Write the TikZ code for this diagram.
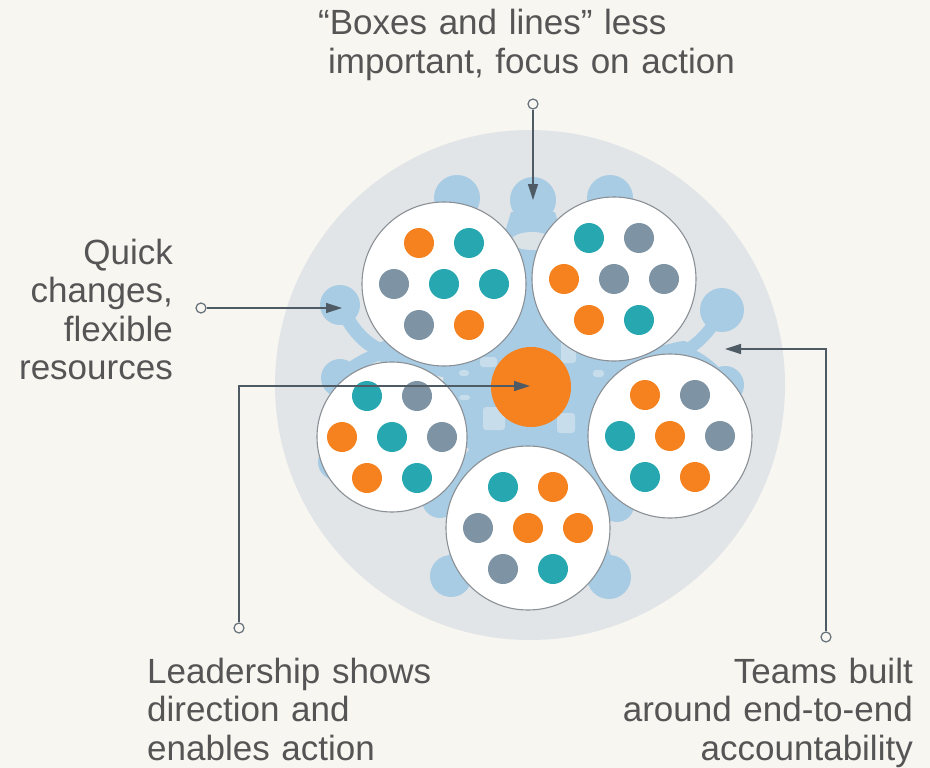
\documentclass[tikz,border=0pt]{standalone}
\usepackage{fontspec}
\setmainfont{Liberation Sans}
\usetikzlibrary{arrows.meta}

\definecolor{bgcream}{HTML}{F7F6F1}
\definecolor{ringgrey}{HTML}{E1E5E8}
\definecolor{netblue}{HTML}{A8CCE4}
\definecolor{netlight}{HTML}{C8DDEB}
\definecolor{holegrey}{HTML}{DCE3E7}
\definecolor{dotO}{HTML}{F5821F}
\definecolor{dotT}{HTML}{27A8B0}
\definecolor{dotG}{HTML}{7E93A3}
\definecolor{rimgrey}{HTML}{8A9096}
\definecolor{calloutline}{HTML}{4E5A64}
\definecolor{pingrey}{HTML}{66717A}
\definecolor{labeltext}{HTML}{555555}

% seven members of a team, laid out on a small hexagonal grid
\newcommand\teamdots[8]{%
  \foreach \dx/\dy/\c [count=\i] in {-25/-41/#2, 25/-41/#3, -50/0/#4, 0/0/#5,
                                     50/0/#6, -25/41/#7, 25/41/#8}
    \node[member=\c] (#1-\i) at ([shift={(\dx,\dy)}]#1.center) {};%
}

\begin{document}
\begin{tikzpicture}[x=1pt,y=-1pt,
  txt/.style={font=\fontsize{35}{38.5}\selectfont, text=labeltext, inner sep=0pt},
  team/.style={circle, draw=rimgrey, line width=1.1pt, fill=white,
               inner sep=0pt, minimum size=#1},
  member/.style={circle, fill=#1, inner sep=0pt, minimum size=30pt},
  arm/.style={draw=netblue, line width=#1, line cap=round, line join=round},
  knob/.style={fill=netblue},
  patch/.style={fill=netlight, rounded corners=3pt},
  pin/.style={circle, draw=pingrey, fill=bgcream, line width=1.2pt,
              inner sep=0pt, minimum size=10pt},
  callout/.style={draw=calloutline, line width=1.3pt,
                  -{Triangle[length=16pt,width=10pt]}},
]
% canvas
\fill[bgcream] (0,0) rectangle (930,768);
\useasboundingbox (0,0) rectangle (930,768);

% organisation boundary
\fill[ringgrey] (530,385) circle (255pt);

% ---- light blue network behind the teams ----
\coordinate (hub) at (531,387);
\fill[netblue] (hub) circle (88pt);
% top branches
\draw[arm=24pt] (hub) -- (533,205);
\draw[arm=20pt] (hub) -- (457,200);
\draw[arm=20pt] (hub) -- (610,200);
\fill[netblue] (511,212) -- (555,212) -- (568,256) -- (498,256) -- cycle;
\fill[holegrey] (532,241) ellipse (21pt and 9pt);
% left fork
\coordinate (jl) at (385,352);
\draw[arm=22pt] (hub) -- (jl);
\draw[arm=14pt] (jl) .. controls (365,345) and (352,330) .. (340,305);
\draw[arm=13pt] (jl) .. controls (368,357) and (352,366) .. (340,378);
\draw[arm=18pt] (hub) -- (336,462);
% right fork
\coordinate (jr) at (683,352);
\draw[arm=22pt] (hub) -- (jr);
\draw[arm=12pt] (jr) .. controls (697,345) and (712,330) .. (722,310);
\draw[arm=13pt] (jr) .. controls (700,358) and (715,370) .. (725,385);
% lower branches
\draw[arm=20pt] (hub) -- (451,576);
\draw[arm=20pt] (hub) -- (609,577);
\draw[arm=18pt] (hub) -- (440,500);
\draw[arm=18pt] (hub) -- (617,505);
% knobs at the branch ends
\fill[knob] (457,198) circle (23pt);
\fill[knob] (533,200) circle (23pt);
\fill[knob] (610,198) circle (23pt);
\fill[knob] (340,305) circle (20pt);
\fill[knob] (340,378) circle (19pt);
\fill[knob] (336,462) circle (18pt);
\fill[knob] (722,310) circle (22pt);
\fill[knob] (725,385) circle (19pt);
\fill[knob] (440,500) circle (18pt);
\fill[knob] (617,505) circle (17pt);
\fill[knob] (451,576) circle (21pt);
\fill[knob] (609,577) circle (22pt);
% lighter gaps in the core
\fill[patch] (480,357) rectangle (497,367);
\fill[patch] (561,340) rectangle (576,363);
\fill[patch] (483,407) rectangle (505,430);
\fill[patch] (557,413) rectangle (575,433);
\fill[patch] (459,370) rectangle (469,376);
\fill[patch] (593,370) rectangle (604,377);
\fill[patch] (459,395) rectangle (470,400);

% ---- teams ----
\node[team=164pt] (tl) at (444,284) {};
\node[team=164pt] (tr) at (614,279) {};
\node[team=150pt] (ml) at (392,437) {};
\node[team=164pt] (mr) at (670,436) {};
\node[team=164pt] (bt) at (528,528) {};

\teamdots{tl}{dotO}{dotT}{dotG}{dotT}{dotT}{dotG}{dotO}
\teamdots{tr}{dotT}{dotG}{dotO}{dotG}{dotG}{dotO}{dotT}
\teamdots{ml}{dotT}{dotG}{dotO}{dotT}{dotG}{dotO}{dotT}
\teamdots{mr}{dotO}{dotG}{dotT}{dotO}{dotG}{dotT}{dotO}
\teamdots{bt}{dotT}{dotO}{dotG}{dotO}{dotO}{dotG}{dotT}

% leadership at the centre
\node[circle, fill=dotO, inner sep=0pt, minimum size=80pt] (core) at (531,387) {};

% ---- callouts ----
\node[pin] (pinA) at (533,104) {};
\coordinate (tipA) at (533,200);
\draw[callout] (pinA) -- (tipA);

\node[pin] (pinB) at (201,308) {};
\coordinate (tipB) at (342,308);
\draw[callout] (pinB) -- (tipB);

\node[pin] (pinC) at (239,628) {};
\coordinate (tipC) at (530,386);
\draw[callout] (pinC) |- (tipC);

\node[pin] (pinD) at (826,637) {};
\coordinate (tipD) at (725,349);
\draw[callout] (pinD) |- (tipD);

% ---- labels ----
\node[txt, anchor=base west, text width=440pt, align=left] (boxes) at (318,35)
  {“Boxes and lines” less\\\hspace*{10pt}important, focus on action};
\node[txt, anchor=base east, text width=200pt, align=right] (quick) at (173,264)
  {Quick\\changes,\\flexible\\resources};
\node[txt, anchor=base west, text width=320pt, align=left] (lead) at (147,683)
  {Leadership shows\\direction and\\enables action};
\node[txt, anchor=base east, text width=320pt, align=right] (teams) at (913,683)
  {Teams built\\around end-to-end\\accountability};
\end{tikzpicture}
\end{document}
